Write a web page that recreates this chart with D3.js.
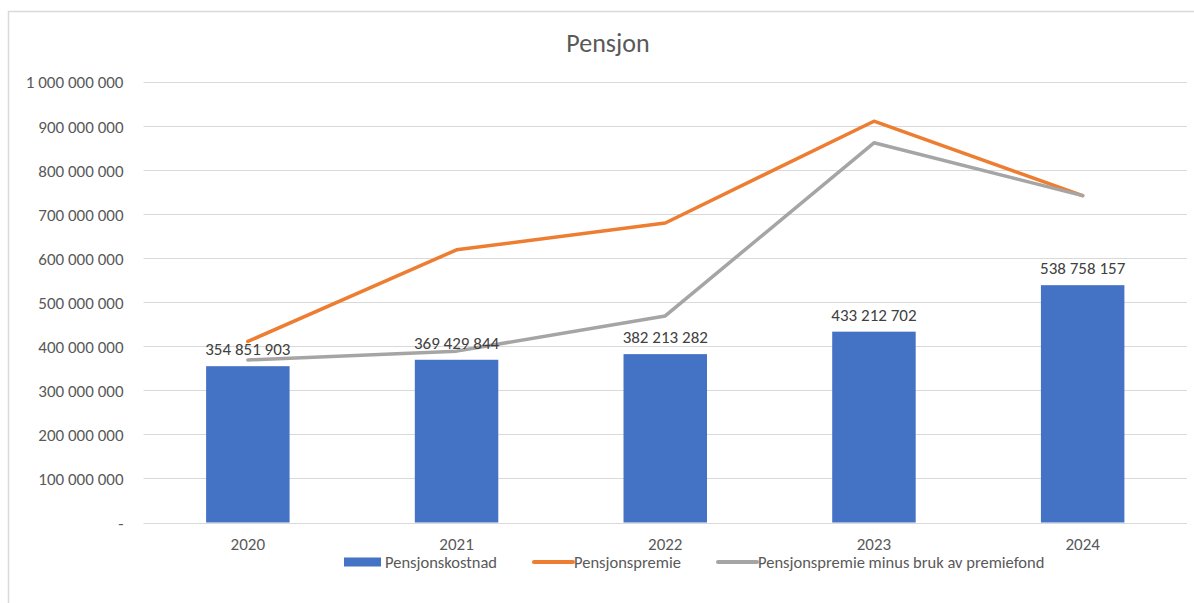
<!DOCTYPE html>
<html>
<head>
<meta charset="utf-8">
<script src="https://cdn.jsdelivr.net/npm/d3@7"></script>
<style>
  body { margin: 0; background: #fff; }
  svg { display: block; font-family: Carlito, Calibri, "Liberation Sans", sans-serif; }
</style>
</head>
<body>
<svg id="chart" width="1194" height="603"></svg>
<script>
// data
var years = ["2020", "2021", "2022", "2023", "2024"];
var kostnad = [354851903, 369429844, 382213282, 433212702, 538758157];
var premie = [411000000, 619000000, 680000000, 911000000, 742000000];
var premieMinus = [369000000, 389000000, 469000000, 862000000, 742000000];
var yTicks = [0, 100000000, 200000000, 300000000, 400000000, 500000000,
              600000000, 700000000, 800000000, 900000000, 1000000000];
var seriesNames = ["Pensjonskostnad", "Pensjonspremie", "Pensjonspremie minus bruk av premiefond"];
var colors = ["#4472C4", "#ED7D31", "#A5A5A5"];

var svg = d3.select("#chart");
var plotLeft = 143.5, plotRight = 1187, plotTop = 82, plotBottom = 522.5;

// chart border (cropped at right/bottom)
svg.append("rect")
  .attr("x", 8.5).attr("y", 11.5)
  .attr("width", 1300).attr("height", 700)
  .attr("fill", "none").attr("stroke", "#D9D9D9").attr("stroke-width", 1.5);

var x = d3.scaleBand().domain(years).range([plotLeft, plotRight]).paddingInner(0.6).paddingOuter(0.3);
var y = d3.scaleLinear().domain([0, 1000000000]).range([plotBottom, plotTop]);

function fmt(v) {
  if (v === 0) return "-";
  return d3.format(",")(v).replace(/,/g, " ");
}

// gridlines
svg.append("g").selectAll("line").data(yTicks).join("line")
  .attr("x1", plotLeft).attr("x2", plotRight)
  .attr("y1", function(d) { return Math.round(y(d)) + 0.5; })
  .attr("y2", function(d) { return Math.round(y(d)) + 0.5; })
  .attr("stroke", "#D9D9D9").attr("stroke-width", 1);

// y axis labels
var yAxis = svg.append("g").attr("transform", "translate(" + (plotLeft - 20) + ",0)")
  .call(d3.axisLeft(y).tickValues(yTicks).tickFormat(fmt).tickSize(0).tickPadding(0));
yAxis.select(".domain").remove();
yAxis.selectAll("text").attr("fill", "#595959").style("font-size", "17px").attr("dy", "0.35em")
  .style("font-family", "Carlito, Calibri, 'Liberation Sans', sans-serif");

// x axis labels
var xAxis = svg.append("g").attr("transform", "translate(0," + plotBottom + ")")
  .call(d3.axisBottom(x).tickSize(0).tickPadding(15));
xAxis.select(".domain").remove();
xAxis.selectAll("text").attr("fill", "#595959").style("font-size", "17px")
  .style("font-family", "Carlito, Calibri, 'Liberation Sans', sans-serif");

// bars
svg.append("g").selectAll("rect").data(kostnad).join("rect")
  .attr("x", function(d, i) { return x(years[i]); })
  .attr("width", x.bandwidth())
  .attr("y", function(d) { return y(d); })
  .attr("height", function(d) { return plotBottom - y(d); })
  .attr("fill", colors[0]);

// lines
var line = d3.line()
  .x(function(d, i) { return x(years[i]) + x.bandwidth() / 2; })
  .y(function(d) { return y(d); });
[premie, premieMinus].forEach(function(s, k) {
  svg.append("path").datum(s)
    .attr("d", line)
    .attr("fill", "none")
    .attr("stroke", colors[k + 1])
    .attr("stroke-width", 3.5)
    .attr("stroke-linejoin", "round")
    .attr("stroke-linecap", "round");
});

// data labels
svg.append("g").selectAll("text").data(kostnad).join("text")
  .attr("x", function(d, i) { return x(years[i]) + x.bandwidth() / 2; })
  .attr("y", function(d) { return y(d) - 11; })
  .attr("text-anchor", "middle")
  .attr("fill", "#404040")
  .style("font-size", "17px")
  .text(fmt);

// title
svg.append("text")
  .attr("x", 608).attr("y", 52)
  .attr("text-anchor", "middle")
  .attr("fill", "#595959")
  .style("font-size", "26px")
  .text("Pensjon");

// legend
var legendX = [344, 534, 718];
var lg = svg.append("g").selectAll("g").data(seriesNames).join("g")
  .attr("transform", function(d, i) { return "translate(" + legendX[i] + ",562)"; });
lg.each(function(d, i) {
  var g = d3.select(this);
  if (i === 0) {
    g.append("rect").attr("x", 0).attr("y", -4.5).attr("width", 37).attr("height", 9).attr("fill", colors[0]);
  } else {
    g.append("line").attr("x1", 0).attr("x2", 39).attr("y1", 0).attr("y2", 0)
      .attr("stroke", colors[i]).attr("stroke-width", 4).attr("stroke-linecap", "round");
  }
  g.append("text").attr("x", i === 0 ? 41 : 40).attr("y", 0).attr("dy", "0.35em")
    .attr("fill", "#595959").style("font-size", "16.5px").text(d);
});
</script>
</body>
</html>
